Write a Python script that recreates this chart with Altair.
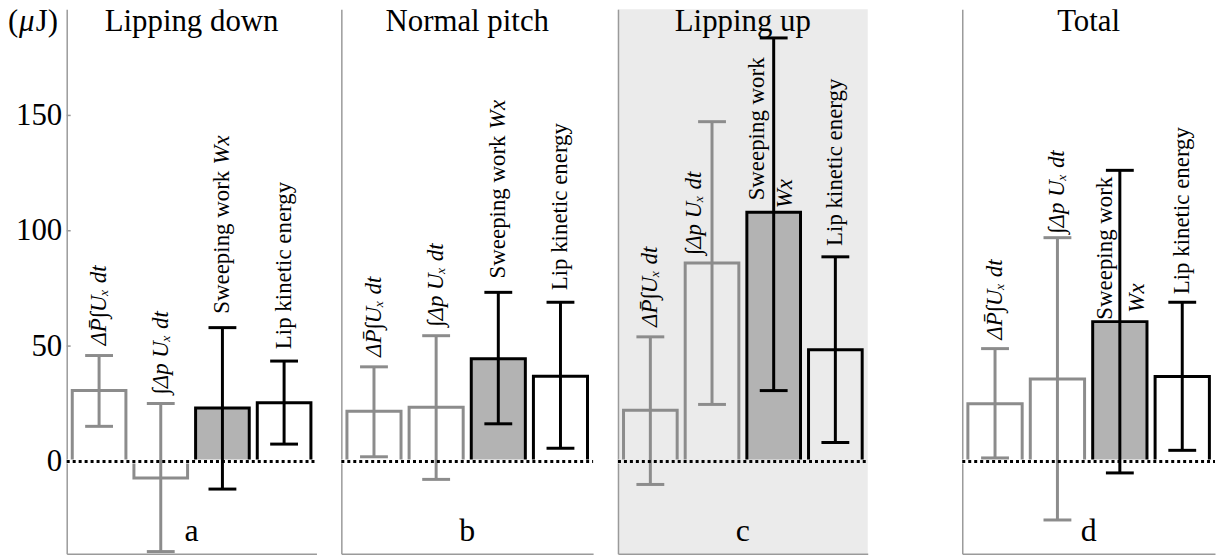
import altair as alt
import pandas as pd

FONT = "'Liberation Serif', 'Times New Roman', serif"
AX = "#9a9a9a"

# ---------------- data ----------------
panel_titles = ["Lipping down", "Normal pitch", "Lipping up", "Total"]
panel_letters = ["a", "b", "c", "d"]
categories = ["dP_mean_int_Ux", "int_dp_Ux", "sweeping_work", "lip_kinetic"]

bar_a = [30.7, -7.2, 23.2, 25.4]
bar_b = [21.7, 23.5, 44.5, 36.9]
bar_c = [22.2, 86.0, 108.0, 48.4]
bar_d = [25.0, 35.7, 60.6, 36.8]

hi_a = [45.9, 25.1, 58.0, 43.5]
hi_b = [41.0, 54.5, 73.3, 69.0]
hi_c = [54.0, 147.3, 183.6, 88.7]
hi_d = [48.9, 97.0, 126.2, 69.0]

lo_a = [15.2, -39.1, -12.0, 7.5]
lo_b = [2.0, -7.8, 16.3, 5.7]
lo_c = [-10.0, 24.7, 30.7, 8.2]
lo_d = [1.5, -25.4, -5.0, 4.8]

bar_values = [bar_a, bar_b, bar_c, bar_d]
hi_values = [hi_a, hi_b, hi_c, hi_d]
lo_values = [lo_a, lo_b, lo_c, lo_d]

y_ticks = [0, 50, 100, 150]
# unit label pieces: (text, italic, x offset px)
y_unit_parts = [("(", False, 0), ("\u03bc", True, 11), ("J)", False, 28)]

lab_dp = "\u0394P\u0304\u222bU\u2093 dt"
lab_int = "\u222b\u0394p U\u2093 dt"

# label layout: (category index, text, anchor, gap px, shift px, italic)
default_labels = [
    (0, lab_dp, "hi", 10, 0, True),
    (1, lab_int, "hi", 9, 0, True),
    (2, "Sweeping work", "hi", 14, 0, False),
    (2, "Wx", "hi", 164, 0, True),
    (3, "Lip kinetic energy", "hi", 12, 0, False),
]
labels_c = [
    (0, lab_dp, "hi", 10, 0, True),
    (1, lab_int, "val", 8, -18, True),
    (2, "Sweeping work", "val", 12, -17, False),
    (2, "Wx", "val", 4, 11, True),
    (3, "Lip kinetic energy", "hi", 11, 0, False),
]
labels_d = [
    (0, lab_dp, "hi", 9, 0, True),
    (1, lab_int, "hi", 4, 0, True),
    (2, "Sweeping work", "val", 2, -15, False),
    (2, "Wx", "val", 9, 17, True),
    (3, "Lip kinetic energy", "hi", 8, 0, False),
]
panel_labels = [default_labels, default_labels, labels_c, labels_d]

strokes = ["#8c8c8c", "#8c8c8c", "#000000", "#000000"]
fills = ["transparent", "transparent", "#b3b3b3", "transparent"]

widths = [251, 253, 251, 254]
gaps = [25, 25, 95]
LEFT = 59
H = 547
YDOM = [-40, 196]
TITLE_Y = 22   # baseline, px from plot top


def spacer(w, with_unit=False):
    ch = alt.Chart(pd.DataFrame({"s": [0]})).mark_point(opacity=0, size=1).encode(
        x=alt.value(w / 2), y=alt.value(H / 2))
    layers = [ch]
    if with_unit:
        for (txt, italic, off) in y_unit_parts:
            layers.append(
                alt.Chart(pd.DataFrame({"t": [txt]})).mark_text(
                    font=FONT, fontSize=31, baseline="alphabetic", align="left",
                    fontStyle="italic" if italic else "normal",
                    color="black", clip=True
                ).encode(x=alt.value(off), y=alt.value(TITLE_Y), text="t:N")
            )
    return alt.layer(*layers).properties(width=w, height=H)


def make_panel(i):
    W = widths[i]
    bg = "#ebebeb" if i == 2 else "white"
    df = pd.DataFrame({
        "cat": categories,
        "val": bar_values[i],
        "hi": hi_values[i],
        "lo": lo_values[i],
        "stroke": strokes,
        "fill": fills,
    })
    xaxis = alt.Axis(labels=False, ticks=False, domain=True, domainColor=AX,
                     domainWidth=1.5, title=None, minExtent=0, maxExtent=0, grid=False)
    xs = alt.X("cat:N", sort=categories, title=None,
               scale=alt.Scale(paddingInner=0.13, paddingOuter=0.09), axis=xaxis)
    yscale = alt.Scale(domain=YDOM, nice=False, zero=False)
    if i == 0:
        yaxis = alt.Axis(values=y_ticks, labelFont=FONT, labelFontSize=31, labelColor="black",
                         labelPadding=5, ticks=False, domainColor=AX, domainWidth=1.5,
                         grid=False, title=None)
    else:
        yaxis = alt.Axis(labels=False, ticks=False, domainColor=AX, domainWidth=1.5,
                         grid=False, title=None, minExtent=0, maxExtent=0)

    def Y(field):
        return alt.Y(field, scale=yscale, axis=yaxis, title=None)

    base = alt.Chart(df)
    bars = base.mark_bar(strokeWidth=3).encode(
        x=xs, y=Y("val:Q"), y2=alt.datum(0),
        fill=alt.Fill("fill:N", scale=None),
        stroke=alt.Stroke("stroke:N", scale=None),
    )
    zero_df = pd.DataFrame({"z": [0]})
    zero_bg = alt.Chart(zero_df).mark_rule(strokeWidth=4, color=bg).encode(
        y=Y("z:Q"), x=alt.value(0), x2=alt.value(W))
    err = base.mark_rule(strokeWidth=3).encode(
        x=xs, y=Y("lo:Q"), y2="hi:Q", color=alt.Color("stroke:N", scale=None))
    cap_hi = base.mark_tick(size=28, thickness=3, opacity=1).encode(
        x=xs, y=Y("hi:Q"), color=alt.Color("stroke:N", scale=None))
    cap_lo = base.mark_tick(size=28, thickness=3, opacity=1).encode(
        x=xs, y=Y("lo:Q"), color=alt.Color("stroke:N", scale=None))
    zero_dot = alt.Chart(zero_df).mark_rule(strokeWidth=3, color="black",
                                            strokeDash=[3, 3]).encode(
        y=Y("z:Q"), x=alt.value(0), x2=alt.value(W))

    layers = [bars, zero_bg, err, cap_hi, cap_lo, zero_dot]

    for (ci, txt, anchor, gap, shift, italic) in panel_labels[i]:
        row = df.iloc[[ci]].copy()
        row["label"] = txt
        row["anchor"] = row[anchor]
        t = alt.Chart(row).mark_text(
            angle=270, align="left", baseline="middle", font=FONT, fontSize=23,
            fontStyle="italic" if italic else "normal", color="black",
            dx=gap, dy=shift,
        ).encode(x=xs, y=Y("anchor:Q"), text="label:N")
        layers.append(t)

    title_df = pd.DataFrame({"t": [panel_titles[i]]})
    title = alt.Chart(title_df).mark_text(
        font=FONT, fontSize=31, baseline="alphabetic", align="center", color="black",
        clip=True
    ).encode(x=alt.value(W / 2), y=alt.value(TITLE_Y), text="t:N")
    letter_df = pd.DataFrame({"t": [panel_letters[i]]})
    letter = alt.Chart(letter_df).mark_text(
        font=FONT, fontSize=32, baseline="middle", align="center", color="black"
    ).encode(x=alt.value(W / 2), y=alt.value(524), text="t:N")
    layers += [title, letter]

    if i == 0:
        tick_df = pd.DataFrame({"v": y_ticks[1:]})
        ticks = alt.Chart(tick_df).mark_rule(color=AX, strokeWidth=1.5).encode(
            y=Y("v:Q"), x=alt.value(0), x2=alt.value(4))
        layers += [ticks]

    props = dict(width=W, height=H)
    if i == 2:
        props["view"] = alt.ViewBackground(fill="#ebebeb", stroke=None)
    return alt.layer(*layers).properties(**props)


panels = [make_panel(i) for i in range(4)]

row = [spacer(LEFT, True), panels[0], spacer(gaps[0]), panels[1],
       spacer(gaps[1]), panels[2], spacer(gaps[2]), panels[3]]

chart = alt.hconcat(*row, spacing=0, bounds="flush").properties(
    padding=0
).configure_view(stroke=None)

chart.save("out.html", embed_options={"renderer": "svg", "actions": False})
